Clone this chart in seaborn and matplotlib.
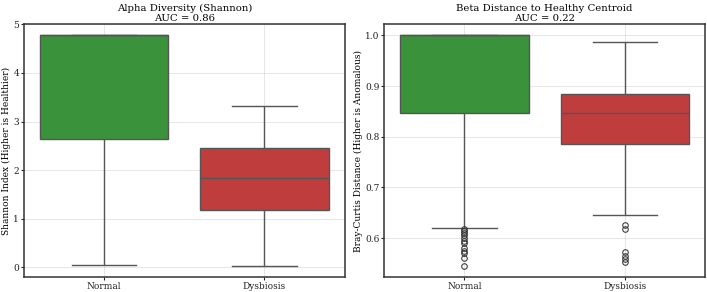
import numpy as np
import pandas as pd
import matplotlib
matplotlib.use("Agg")
import matplotlib.pyplot as plt
import seaborn as sns

# ==========================================
# DATA (sample values)
# ==========================================

groups = ["Normal", "Dysbiosis"]
colors = {"Normal": "tab:green", "Dysbiosis": "tab:red"}

# Shannon index per group
alpha_normal = [0.05, 2.65, 4.77, 4.77, 4.77]
alpha_dysbiosis = [0.03, 1.17, 1.83, 2.45, 3.32]

# Bray-Curtis distance to healthy centroid
beta_normal = [0.545, 0.56, 0.570, 0.575, 0.58, 0.590, 0.595, 0.600, 0.605,
               0.610, 0.614, 0.617, 0.62, 0.847, 0.86, 0.87, 0.88, 0.89,
               0.90, 0.91, 0.92, 0.93, 0.94, 0.95, 0.96, 0.98,
               1.0, 1.0, 1.0, 1.0, 1.0, 1.0, 1.0, 1.0, 1.0, 1.0, 1.0, 1.0,
               1.0, 1.0, 1.0, 1.0, 1.0, 1.0, 1.0, 1.0, 1.0, 1.0, 1.0, 1.0,
               1.0, 1.0, 1.0]
beta_dysbiosis = [0.553, 0.558, 0.565, 0.572, 0.618, 0.625, 0.645,
                  0.786, 0.79, 0.80, 0.81, 0.82, 0.83, 0.84, 0.847,
                  0.85, 0.855, 0.86, 0.87, 0.875, 0.88, 0.885,
                  0.89, 0.90, 0.92, 0.94, 0.96, 0.975, 0.988]

auc_alpha = 0.86
auc_beta = 0.22

alpha_df = pd.DataFrame({
    "Group": ["Normal"] * len(alpha_normal) + ["Dysbiosis"] * len(alpha_dysbiosis),
    "Value": alpha_normal + alpha_dysbiosis,
})
beta_df = pd.DataFrame({
    "Group": ["Normal"] * len(beta_normal) + ["Dysbiosis"] * len(beta_dysbiosis),
    "Value": beta_normal + beta_dysbiosis,
})

# ==========================================
# PLOT
# ==========================================

plt.rcParams["font.family"] = "serif"

fig, axes = plt.subplots(1, 2, figsize=(14.14, 5.84), dpi=50)

box_kw = dict(linewidth=2.0, linecolor="#555555",
              flierprops=dict(marker="o", markersize=8, markeredgewidth=1.5,
                              markerfacecolor="none", markeredgecolor="#333333"))

sns.boxplot(data=alpha_df, x="Group", y="Value", hue="Group", order=groups,
            palette=colors, ax=axes[0], legend=False, **box_kw)
axes[0].set_title(f"Alpha Diversity (Shannon)\nAUC = {auc_alpha:.2f}",
                  fontsize=14.5, pad=4)
axes[0].set_xlabel("")
axes[0].set_ylabel("Shannon Index (Higher is Healthier)", fontsize=13, labelpad=3)

sns.boxplot(data=beta_df, x="Group", y="Value", hue="Group", order=groups,
            palette=colors, ax=axes[1], legend=False, **box_kw)
axes[1].set_title(f"Beta Distance to Healthy Centroid\nAUC = {auc_beta:.2f}",
                  fontsize=14.5, pad=4)
axes[1].set_xlabel("")
axes[1].set_ylabel("Bray-Curtis Distance (Higher is Anomalous)", fontsize=13, labelpad=3)

for ax in axes:
    ax.grid(True, alpha=0.3, linewidth=1.5)
    ax.set_axisbelow(True)
    ax.tick_params(labelsize=13, width=1.6, length=5, pad=2, colors="#222222")
    for sp in ax.spines.values():
        sp.set_linewidth(2.2)
        sp.set_color("#333333")

plt.subplots_adjust(left=0.034, right=0.997, bottom=0.05, top=0.918, wspace=0.124)
plt.savefig("out.png", dpi=50)
